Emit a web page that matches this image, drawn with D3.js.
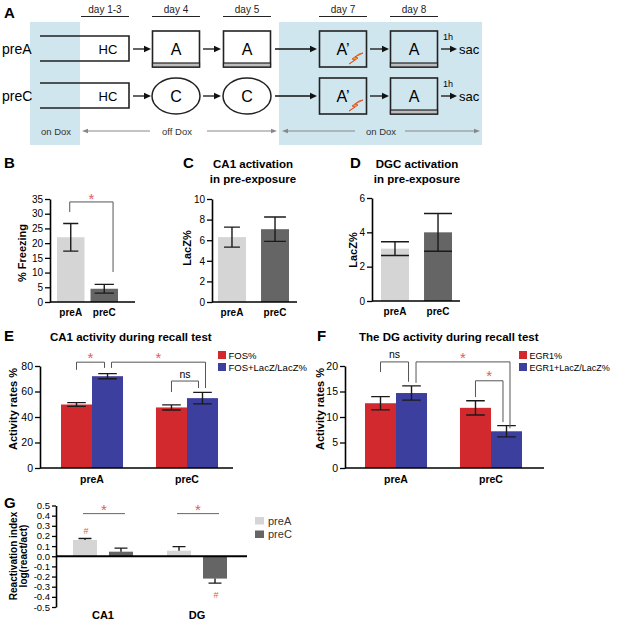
<!DOCTYPE html>
<html>
<head>
<meta charset="utf-8">
<script src="https://cdn.jsdelivr.net/npm/d3@7"></script>
<style>
  body { margin: 0; background: #fff; }
  svg { display: block; }
</style>
</head>
<body>
<div id="fig"></div>
<script>
// ---- data ----
const days = ["day 1-3", "day 4", "day 5", "day 7", "day 8"];
const rows = ["preA", "preC"];

const groups = ["preA", "preC"];
const freezingMean = [22.0, 4.5];
const freezingSem = [4.7, 1.5];
const ca1LacZMean = [6.3, 7.07];
const ca1LacZSem = [0.97, 1.18];
const dgcLacZMean = [3.05, 4.0];
const dgcLacZSem = [0.4, 1.1];
const ticksB = [0, 5, 10, 15, 20, 25, 30, 35];
const ticksC = [0, 2, 4, 6, 8, 10];
const ticksD = [0, 2, 4, 6];

const seriesE = ["FOS%", "FOS+LacZ/LacZ%"];
const fosMean = [49.8, 47.5];
const fosSem = [1.5, 2.0];
const fosLacZMean = [72.0, 54.8];
const fosLacZSem = [2.0, 4.5];
const ticksE = [0, 20, 40, 60, 80];

const seriesF = ["EGR1%", "EGR1+LacZ/LacZ%"];
const egrMean = [12.7, 11.8];
const egrSem = [1.3, 1.4];
const egrLacZMean = [14.7, 7.2];
const egrLacZSem = [1.4, 1.1];
const ticksF = [0, 5, 10, 15, 20];

const regions = ["CA1", "DG"];
const seriesG = ["preA", "preC"];
const reactPreA = [0.16, 0.055];
const reactPreASem = [0.015, 0.04];
const reactPreC = [0.045, -0.22];
const reactPreCSem = [0.035, 0.045];
const ticksG = [-0.5, -0.4, -0.3, -0.2, -0.1, 0, 0.1, 0.2, 0.3, 0.4, 0.5];

// ---- styles ----
const FONT = "'Liberation Sans', Arial, Helvetica, sans-serif";
const doxBlue = "#cfe6ee";
const lightGray = "#d5d5d5";
const darkGray = "#656565";
const red = "#d2292e";
const blue = "#3d3f9e";
const starRed = "#e25c5c";

const svg = d3.select("#fig").append("svg")
    .attr("width", 617)
    .attr("height", 622)
    .style("font-family", FONT);

function txt(g, x, y, s, size, opts = {}) {
    return g.append("text")
        .attr("x", x).attr("y", y)
        .attr("text-anchor", opts.anchor || "start")
        .attr("font-size", size)
        .attr("font-weight", opts.bold ? "bold" : "normal")
        .attr("fill", opts.fill || "#000")
        .text(s);
}

function vtxt(g, x, y, s, size) {
    return g.append("text")
        .attr("transform", `translate(${x},${y}) rotate(-90)`)
        .attr("text-anchor", "middle")
        .attr("font-size", size)
        .attr("font-weight", "bold")
        .text(s);
}

function arrow(g, x1, x2, y, color, w, hl, hw) {
    const dir = x2 > x1 ? 1 : -1;
    g.append("line")
        .attr("x1", x1).attr("x2", x2 - dir * hl * 0.6)
        .attr("y1", y).attr("y2", y)
        .attr("stroke", color).attr("stroke-width", w);
    g.append("path")
        .attr("d", `M${x2},${y}L${x2 - dir * hl},${y - hw}L${x2 - dir * hl},${y + hw}Z`)
        .attr("fill", color);
}

function styleAxis(sel, fs) {
    sel.attr("font-family", FONT);
    sel.select(".domain").attr("stroke", "#000").attr("stroke-width", 1.6);
    sel.selectAll(".tick line").attr("stroke", "#000").attr("stroke-width", 1.3);
    sel.selectAll(".tick text").attr("fill", "#000").attr("font-size", fs);
}

function star(g, x, yc) {
    txt(g, x, yc + 8.5, "*", 15, { anchor: "middle", fill: starRed });
}

function bracket(g, xl, xr, yTop, yl, yr) {
    g.append("path")
        .attr("d", `M${xl},${yl}V${yTop}H${xr}V${yr}`)
        .attr("fill", "none").attr("stroke", "#555").attr("stroke-width", 1);
}

function errBar(g, cx, yMid, yLo, yHi, hw) {
    let d = `M${cx},${yLo}V${yHi}M${cx - hw},${yHi}H${cx + hw}`;
    if (yLo !== yMid) d += `M${cx - hw},${yLo}H${cx + hw}`;
    g.append("path").attr("d", d)
        .attr("fill", "none").attr("stroke", "#1a1a1a").attr("stroke-width", 1.4);
}

// ================= Panel A =================
const gA = svg.append("g");
const dayX = d3.scaleOrdinal(days, [105, 176, 247, 343, 414]);
const rowY = d3.scaleOrdinal(rows, [49, 96]);

gA.append("rect").attr("x", 30).attr("y", 22).attr("width", 50).attr("height", 123).attr("fill", doxBlue);
gA.append("rect").attr("x", 279).attr("y", 22).attr("width", 203).attr("height", 123).attr("fill", doxBlue);

txt(gA, 4, 18, "A", 15, { bold: true });

days.forEach(d => {
    txt(gA, dayX(d), 13, d, 10, { anchor: "middle", fill: "#222" });
    gA.append("line")
        .attr("x1", dayX(d) - 24).attr("x2", dayX(d) + 24)
        .attr("y1", 16.5).attr("y2", 16.5)
        .attr("stroke", "#222").attr("stroke-width", 1);
});

function boxA(g, cx, cy, label, strip) {
    const w = 47, top = cy - 18, bot = cy + 18;
    g.append("rect").attr("x", cx - w / 2).attr("y", top).attr("width", w).attr("height", bot - top)
        .attr("fill", "none").attr("stroke", "#222").attr("stroke-width", 1.6);
    if (strip) {
        g.append("rect").attr("x", cx - w / 2).attr("y", bot - 4).attr("width", w).attr("height", 4)
            .attr("fill", "#bdbdbd").attr("stroke", "#222").attr("stroke-width", 1.2);
    }
    txt(g, cx, cy + 6, label, 16, { anchor: "middle" });
}

function bolt(g, bx, by) {
    g.append("path")
        .attr("d", `M${bx},${by - 10}L${bx - 8},${by - 6}L${bx - 5},${by - 5}L${bx - 14},${by + 1}` +
                   `L${bx - 8},${by - 3}L${bx - 11},${by - 4}L${bx - 4},${by - 9}Z`)
        .attr("fill", "#f6a530").attr("stroke", "#d9461c").attr("stroke-width", 0.8);
}

rows.forEach((r, ri) => {
    const cy = rowY(r);
    txt(gA, 2, cy + 5, r, 14);
    // home cage (open on the left)
    gA.append("path")
        .attr("d", `M40,${cy - 13}H129V${cy + 12}H40`)
        .attr("fill", "none").attr("stroke", "#222").attr("stroke-width", 1.6);
    txt(gA, 108, cy + 5, "HC", 13, { anchor: "middle" });

    if (ri === 0) {
        boxA(gA, dayX("day 4"), cy, "A", true);
        boxA(gA, dayX("day 5"), cy, "A", true);
    } else {
        ["day 4", "day 5"].forEach(d => {
            gA.append("ellipse").attr("cx", dayX(d)).attr("cy", cy).attr("rx", 24).attr("ry", 18)
                .attr("fill", "#fff").attr("stroke", "#222").attr("stroke-width", 1.5);
            txt(gA, dayX(d), cy + 6, "C", 16, { anchor: "middle" });
        });
    }
    boxA(gA, dayX("day 7"), cy, "A\u2019", false);
    bolt(gA, dayX("day 7") + 20, cy + 14);
    boxA(gA, dayX("day 8"), cy, "A", true);

    arrow(gA, 133, 151, cy, "#111", 1.3, 7, 3.2);
    arrow(gA, dayX("day 4") + 27, dayX("day 5") - 26, cy, "#111", 1.3, 7, 3.2);
    arrow(gA, dayX("day 5") + 28, dayX("day 7") - 26, cy, "#111", 1.3, 7, 3.2);
    arrow(gA, dayX("day 7") + 27, dayX("day 8") - 25, cy, "#111", 1.3, 7, 3.2);
    arrow(gA, dayX("day 8") + 27, 457, cy, "#111", 1.3, 7, 3.2);
    txt(gA, 443, cy - 9, "1h", 9);
    txt(gA, 459, cy + 5, "sac", 13);
});

// dox timeline
const doxY = 131;
txt(gA, 56, doxY + 3.5, "on Dox", 9.5, { anchor: "middle", fill: "#333" });
arrow(gA, 150, 82, doxY, "#888", 1, 6, 2.3);
txt(gA, 177, doxY + 3.5, "off Dox", 9.5, { anchor: "middle", fill: "#333" });
arrow(gA, 207, 277, doxY, "#888", 1, 6, 2.3);
arrow(gA, 355, 282, doxY, "#888", 1, 6, 2.3);
txt(gA, 381, doxY + 3.5, "on Dox", 9.5, { anchor: "middle", fill: "#333" });
arrow(gA, 405, 480, doxY, "#888", 1, 6, 2.3);

// ================= simple two-bar panels (B, C, D) =================
function simpleBars(o) {
    const g = svg.append("g");
    const y = d3.scaleLinear().domain(o.domain).range([o.y0, o.y1]);
    const x = d3.scaleBand().domain(groups).range(o.xr).paddingInner(o.pad);
    const fills = [lightGray, darkGray];

    g.selectAll("rect.bar").data(groups).join("rect")
        .attr("class", "bar")
        .attr("x", d => x(d))
        .attr("width", x.bandwidth())
        .attr("y", (d, i) => y(o.mean[i]))
        .attr("height", (d, i) => y(0) - y(o.mean[i]))
        .attr("fill", (d, i) => fills[i]);

    groups.forEach((d, i) => {
        const cx = x(d) + x.bandwidth() / 2;
        errBar(g, cx, null, y(o.mean[i] - o.sem[i]), y(o.mean[i] + o.sem[i]), x.bandwidth() * o.cap[i] / 2);
    });

    const ax = g.append("g")
        .attr("transform", `translate(${o.axisX},0)`)
        .call(d3.axisLeft(y).tickValues(o.ticks).tickFormat(d3.format("d"))
            .tickSize(5).tickSizeOuter(0).tickPadding(2));
    styleAxis(ax, 10);

    g.append("line")
        .attr("x1", o.axisX).attr("x2", o.axisEnd)
        .attr("y1", y(0)).attr("y2", y(0))
        .attr("stroke", "#000").attr("stroke-width", 1.6);

    groups.forEach(d => {
        txt(g, x(d) + x.bandwidth() / 2, y(0) + 14, d, 10, { anchor: "middle", bold: true });
    });
    vtxt(g, o.labX, o.labY, o.ylabel, 11);
    return { g, x, y };
}

// B
const pB = simpleBars({
    domain: [0, 35], y0: 302, y1: 199, xr: [57, 118], pad: 0.18,
    mean: freezingMean, sem: freezingSem, cap: [0.55, 0.7], ticks: ticksB,
    axisX: 50, axisEnd: 135, ylabel: "% Freezing", labX: 26, labY: 253
});
txt(svg, 4, 168, "B", 15, { bold: true });
{
    const { g, x, y } = pB;
    const xl = x("preA") + x.bandwidth() / 2 - 1;
    const xr = x("preC") + x.bandwidth() * 0.82;
    bracket(g, xl, xr, y(34), y(30.6), y(10.2));
    star(g, (xl + xr) / 2, y(34) - 6);
}

// C
simpleBars({
    domain: [0, 10], y0: 302, y1: 199, xr: [218, 289], pad: 0.35,
    mean: ca1LacZMean, sem: ca1LacZSem, cap: [0.57, 0.78], ticks: ticksC,
    axisX: 212, axisEnd: 297, ylabel: "LacZ%", labX: 191, labY: 248
});
txt(svg, 183, 168, "C", 15, { bold: true });
txt(svg, 253, 168, "CA1 activation", 11.5, { anchor: "middle", bold: true });
txt(svg, 253, 183, "in pre-exposure", 11.5, { anchor: "middle", bold: true });

// D
simpleBars({
    domain: [0, 6], y0: 301, y1: 198, xr: [381, 452], pad: 0.35,
    mean: dgcLacZMean, sem: dgcLacZSem, cap: [1.0, 1.0], ticks: ticksD,
    axisX: 372, axisEnd: 460, ylabel: "LacZ%", labX: 357, labY: 250
});
txt(svg, 350, 168, "D", 15, { bold: true });
txt(svg, 417, 168, "DGC activation", 11.5, { anchor: "middle", bold: true });
txt(svg, 417, 183, "in pre-exposure", 11.5, { anchor: "middle", bold: true });

// ================= grouped panels (E, F) =================
function groupedBars(o) {
    const g = svg.append("g");
    const y = d3.scaleLinear().domain(o.domain).range([o.y0, o.y1]);
    const x0 = d3.scaleBand().domain(groups).range(o.xr).paddingInner(o.pad);
    const x1 = d3.scaleBand().domain(o.series).range([0, x0.bandwidth()]);
    const colors = [red, blue];
    const cxOf = (gi, si) => x0(groups[gi]) + x1(o.series[si]) + x1.bandwidth() / 2;

    o.series.forEach((s, si) => {
        g.selectAll(null).data(groups).join("rect")
            .attr("x", d => x0(d) + x1(s))
            .attr("width", x1.bandwidth())
            .attr("y", (d, gi) => y(o.means[si][gi]))
            .attr("height", (d, gi) => y(0) - y(o.means[si][gi]))
            .attr("fill", colors[si]);
    });
    o.series.forEach((s, si) => {
        groups.forEach((d, gi) => {
            const m = o.means[si][gi], e = o.sems[si][gi];
            errBar(g, cxOf(gi, si), null, y(m - e), y(m + e), x1.bandwidth() * 0.3);
        });
    });

    const ax = g.append("g")
        .attr("transform", `translate(${o.axisX},0)`)
        .call(d3.axisLeft(y).tickValues(o.ticks).tickFormat(d3.format("d"))
            .tickSize(5).tickSizeOuter(0).tickPadding(2));
    styleAxis(ax, 10.5);
    g.append("line")
        .attr("x1", o.axisX).attr("x2", o.axisEnd)
        .attr("y1", y(0)).attr("y2", y(0))
        .attr("stroke", "#000").attr("stroke-width", 1.6);

    groups.forEach(d => {
        txt(g, x0(d) + x0.bandwidth() / 2, y(0) + 15, d, 10.5, { anchor: "middle", bold: true });
    });
    vtxt(g, o.labX, o.labY, "Activity rates %", 11);

    // legend
    o.series.forEach((s, si) => {
        g.append("rect").attr("x", o.legX).attr("y", 351 + si * 12).attr("width", 8).attr("height", 8)
            .attr("fill", colors[si]);
        txt(g, o.legX + 10.5, 358.5 + si * 12, s, o.legFont);
    });
    return { g, y, cxOf };
}

// E
const pE = groupedBars({
    domain: [0, 80], y0: 468, y1: 366, xr: [61, 218], pad: 0.347,
    series: seriesE, means: [fosMean, fosLacZMean], sems: [fosSem, fosLacZSem], ticks: ticksE,
    axisX: 40, axisEnd: 233, labX: 17, labY: 409, legX: 218, legFont: 9.5
});
txt(svg, 4, 341, "E", 15, { bold: true });
txt(svg, 50, 341, "CA1 activity during recall test", 11.5, { bold: true });
{
    const { g, y, cxOf } = pE;
    const l1 = cxOf(0, 0), r1 = cxOf(0, 1) - 3;
    bracket(g, l1, r1, y(83), y(77), y(78.5));
    star(g, (l1 + r1) / 2, y(83) - 8);
    const l2 = cxOf(0, 1) + 4, r2 = cxOf(1, 1) + 3;
    bracket(g, l2, r2, y(83), y(78.5), y(62.7));
    star(g, (l2 + r2) / 2, y(83) - 8);
    const l3 = cxOf(1, 0), r3 = cxOf(1, 1) - 4;
    bracket(g, l3, r3, y(68.2), y(59.6), y(62.7));
    txt(g, (l3 + r3) / 2, y(68.2) - 3, "ns", 10.5, { anchor: "middle" });
}

// F
const pF = groupedBars({
    domain: [0, 20], y0: 468, y1: 366, xr: [365, 522], pad: 0.347,
    series: seriesF, means: [egrMean, egrLacZMean], sems: [egrSem, egrLacZSem], ticks: ticksF,
    axisX: 345, axisEnd: 544, labX: 324, labY: 409, legX: 519, legFont: 9
});
txt(svg, 317, 341, "F", 15, { bold: true });
txt(svg, 359, 341, "The DG activity during recall test", 11.5, { bold: true });
{
    const { g, y, cxOf } = pF;
    const l1 = cxOf(0, 0), r1 = cxOf(0, 1) - 3;
    bracket(g, l1, r1, y(20.8), y(18.8), y(16.9));
    txt(g, (l1 + r1) / 2, y(20.8) - 3.5, "ns", 10.5, { anchor: "middle" });
    const l2 = cxOf(0, 1) + 4.5, r2 = cxOf(1, 1) + 3.5;
    bracket(g, l2, r2, y(20.8), y(16.7), y(7.8));
    star(g, (l2 + r2) / 2, y(20.8) - 7);
    const l3 = cxOf(1, 0), r3 = cxOf(1, 1) - 3.5;
    bracket(g, l3, r3, y(17.1), y(13.9), y(9.0));
    star(g, (l3 + r3) / 2, y(17.1) - 8);
}

// ================= Panel G =================
{
    const g = svg.append("g");
    const y = d3.scaleLinear().domain([-0.5, 0.5]).range([607, 505.5]);
    const x0 = d3.scaleBand().domain(regions).range([73, 227]).paddingInner(0.362);
    const x1 = d3.scaleBand().domain(seriesG).range([0, x0.bandwidth()]).paddingInner(0.333);
    const vals = [reactPreA, reactPreC];
    const sems = [reactPreASem, reactPreCSem];
    const fills = [lightGray, darkGray];

    seriesG.forEach((s, si) => {
        g.selectAll(null).data(regions).join("rect")
            .attr("x", d => x0(d) + x1(s))
            .attr("width", x1.bandwidth())
            .attr("y", (d, ri) => Math.min(y(vals[si][ri]), y(0)))
            .attr("height", (d, ri) => Math.abs(y(vals[si][ri]) - y(0)))
            .attr("fill", fills[si]);
        regions.forEach((d, ri) => {
            const v = vals[si][ri], e = sems[si][ri] * Math.sign(v);
            const cx = x0(d) + x1(s) + x1.bandwidth() / 2;
            errBar(g, cx, y(v), y(v), y(v + e), x1.bandwidth() * 0.27);
        });
    });

    const ax = g.append("g")
        .attr("transform", "translate(56,0)")
        .call(d3.axisLeft(y).tickValues(ticksG).tickSize(4).tickSizeOuter(0).tickPadding(2)
            .tickFormat(d => d.toFixed(1)));
    styleAxis(ax, 9.5);
    g.append("line")
        .attr("x1", 56).attr("x2", 247)
        .attr("y1", y(0)).attr("y2", y(0))
        .attr("stroke", "#000").attr("stroke-width", 2);

    regions.forEach(d => {
        txt(g, x0(d) + x0.bandwidth() / 2, 619, d, 11, { anchor: "middle", bold: true });
        const xa = x0(d) + x1("preA") + x1.bandwidth() / 2 - 2;
        const xb = x0(d) + x1("preC") + x1.bandwidth() / 2 + 4;
        g.append("line").attr("x1", xa).attr("x2", xb).attr("y1", y(0.42)).attr("y2", y(0.42))
            .attr("stroke", "#666").attr("stroke-width", 1);
        star(g, (xa + xb) / 2, y(0.42) - 7);
    });

    // '#' marks
    txt(g, x0("CA1") + x1("preA") + x1.bandwidth() / 2 + 1, y(0.256) + 3.5, "#", 9, { anchor: "middle", fill: starRed });
    txt(g, x0("DG") + x1("preC") + x1.bandwidth() / 2 + 1, y(-0.374) + 3.5, "#", 9, { anchor: "middle", fill: starRed });

    g.append("text")
        .attr("transform", "translate(17,556) rotate(-90)")
        .attr("text-anchor", "middle").attr("font-size", 10).attr("font-weight", "bold")
        .text("Reactivation index");
    g.append("text")
        .attr("transform", "translate(27,556) rotate(-90)")
        .attr("text-anchor", "middle").attr("font-size", 10).attr("font-weight", "bold")
        .text("log(react/act)");

    seriesG.forEach((s, si) => {
        g.append("rect").attr("x", 255).attr("y", 517 + si * 13.5).attr("width", 9).attr("height", 7.5)
            .attr("fill", fills[si]);
        txt(g, 268, 524.5 + si * 13.5, s, 11, { fill: "#333" });
    });
    txt(svg, 4, 508, "G", 15, { bold: true });
}
</script>
</body>
</html>
